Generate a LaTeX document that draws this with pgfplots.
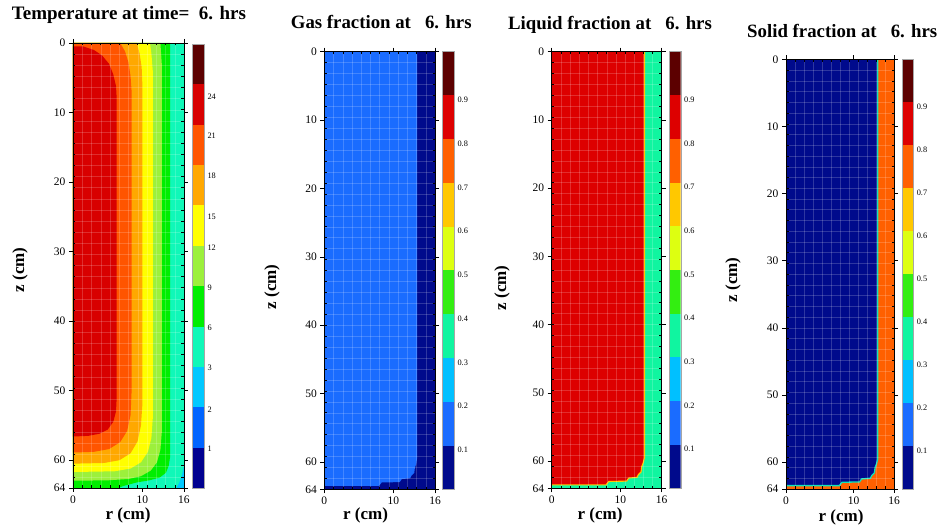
\documentclass[border=0pt]{standalone}
\usepackage{pgfplots}
\pgfplotsset{compat=1.18}
\usepackage{fontspec}
\setmainfont{Liberation Serif}
% temperature colormap
\definecolor{tA}{HTML}{000090}
\definecolor{tB}{HTML}{0064FF}
\definecolor{tC}{HTML}{00C8FF}
\definecolor{tD}{HTML}{10F8B8}
\definecolor{tE}{HTML}{00EE00}
\definecolor{tF}{HTML}{9CF03C}
\definecolor{tG}{HTML}{FFFF00}
\definecolor{tH}{HTML}{FFA800}
\definecolor{tI}{HTML}{FF5500}
\definecolor{tJ}{HTML}{D80000}
\definecolor{tK}{HTML}{5C0000}
% fraction colormap
\definecolor{fA}{HTML}{000A8C}
\definecolor{fB}{HTML}{1A6CFF}
\definecolor{fC}{HTML}{00C0FF}
\definecolor{fD}{HTML}{10F5A0}
\definecolor{fE}{HTML}{33EE11}
\definecolor{fF}{HTML}{DDFF11}
\definecolor{fG}{HTML}{FFC800}
\definecolor{fH}{HTML}{FF6000}
\definecolor{fI}{HTML}{DD0000}
\definecolor{fJ}{HTML}{5C0000}
\pgfplotsset{
  field/.style={
    scale only axis, anchor=south west,
    xmin=0,xmax=16,ymin=0,ymax=64, y dir=reverse,
    xtick={0,10,16}, ytick={0,10,20,30,40,50,60,64},
    minor xtick={1.333,2.667,4,5.333,6.667,8,9.333,10.667,12,13.333,14.667},
    minor ytick={1.6,3.2,...,62.5},
    tick align=outside, major tick length=4pt, minor tick length=-2.5pt,
    axis on top,
    grid=minor, minor grid style={white,opacity=0.18,line width=0.4pt},
    tick label style={font=\fontsize{11.5}{11.5}\selectfont},
    /pgf/number format/assume math mode=true,
    axis line style={line width=0.9pt},
    every tick/.style={black,line width=0.5pt},
  },
  cbar/.style={
    scale only axis, anchor=south west, xmin=0,xmax=1, xtick=\empty,
    yticklabel pos=right, major tick length=0pt, axis line style={gray!70},
    tick label style={font=\fontsize{8.3}{8.3}\selectfont},
    /pgf/number format/assume math mode=true,
    enlargelimits=false, axis on top,
  },
}
\begin{document}
\begin{tikzpicture}
\useasboundingbox (0,0) rectangle (938pt,529pt);
% ---------------- Panel 1: temperature
\begin{axis}[field, at={(73pt,41pt)}, width=111pt, height=445pt]
\addplot[fill=tD,draw=none] coordinates {(0,0) (16,0) (16,64) (0,64)} --cycle;
\addplot[fill=tC,draw=none] coordinates {(16,60.8) (15.7,62.2) (15.3,63.3) (14.9,64) (16,64)} --cycle;
\addplot[fill=tE,draw=none] coordinates {(0,0) (14,0) (14,59.5) (13.8,60.8) (13.4,61.8) (12.5,62.5) (11,62.9) (9.2,63.2) (7.3,63.7) (6.5,64) (0,64)} --cycle;
\addplot[fill=tF,draw=none] coordinates {(0,0) (12.6,0) (12.8,3) (12.8,56) (12.6,58.5) (12.1,60.3) (11.2,61.5) (9.8,62.3) (8,62.7) (5,62.9) (0,62.95)} --cycle;
\addplot[fill=tG,draw=none] coordinates {(0,0) (11.1,0) (11.3,1.5) (11.5,4) (11.5,54) (11.3,56.8) (10.8,58.8) (9.8,60.3) (8.3,61.2) (6,61.6) (0,61.7)} --cycle;
\addplot[fill=tH,draw=none] coordinates {(0,0) (9.2,0) (9.6,1.5) (9.9,3.5) (10,6) (10,52) (9.8,55) (9.3,57.3) (8.3,59) (6.7,60) (4.5,60.4) (0,60.5)} --cycle;
\addplot[fill=tI,draw=none] coordinates {(0,0) (6.8,0) (7.5,1.2) (8,2.8) (8.3,4.8) (8.45,7) (8.45,50) (8.3,53.5) (7.8,55.8) (6.8,57.4) (5.2,58.4) (3,58.8) (0,58.9)} --cycle;
\addplot[fill=tJ,draw=none] coordinates {(0,0.5) (1.5,0.5) (3,1) (4.2,1.8) (5.2,3) (5.8,4.5) (6.2,6.2) (6.3,8) (6.3,51) (6.2,53) (5.8,54.5) (5,55.6) (3.8,56.2) (2.2,56.5) (0,56.6)} --cycle;
\end{axis}
\begin{axis}[cbar, at={(192pt,41pt)}, width=12pt, height=444pt, ymin=0, ymax=11,
  ytick={0.98,1.93,2.97,3.96,4.95,5.94,6.72,7.73,8.72,9.70},
  yticklabels={1,2,3,6,9,12,15,18,21,24}]
\addplot[fill=tA,draw=none] coordinates {(0,0) (1,0) (1,1) (0,1)} --cycle;
\addplot[fill=tB,draw=none] coordinates {(0,1) (1,1) (1,2) (0,2)} --cycle;
\addplot[fill=tC,draw=none] coordinates {(0,2) (1,2) (1,3) (0,3)} --cycle;
\addplot[fill=tD,draw=none] coordinates {(0,3) (1,3) (1,4) (0,4)} --cycle;
\addplot[fill=tE,draw=none] coordinates {(0,4) (1,4) (1,5) (0,5)} --cycle;
\addplot[fill=tF,draw=none] coordinates {(0,5) (1,5) (1,6) (0,6)} --cycle;
\addplot[fill=tG,draw=none] coordinates {(0,6) (1,6) (1,7) (0,7)} --cycle;
\addplot[fill=tH,draw=none] coordinates {(0,7) (1,7) (1,8) (0,8)} --cycle;
\addplot[fill=tI,draw=none] coordinates {(0,8) (1,8) (1,9) (0,9)} --cycle;
\addplot[fill=tJ,draw=none] coordinates {(0,9) (1,9) (1,10) (0,10)} --cycle;
\addplot[fill=tK,draw=none] coordinates {(0,10) (1,10) (1,11) (0,11)} --cycle;
\end{axis}
% ---------------- Panel 2: gas
\begin{axis}[field, at={(324.3pt,39.7pt)}, width=110.7pt, height=437.6pt]
\addplot[fill=fA,draw=none] coordinates {(0,0) (16,0) (16,64) (0,64)} --cycle;
\addplot[fill=fB,draw=none] coordinates {(0,0) (13.4,0) (13.4,59.5) (13.3,60.3) (13.1,60.8) (13.0,61.6) (12.6,62.0) (12.4,62.4) (11.2,62.5) (10.9,62.95) (8.3,63.0) (7.9,63.5) (0,63.5)} --cycle;
\end{axis}
\begin{axis}[cbar, at={(441.7pt,39.7pt)}, width=12.3pt, height=437.6pt, ymin=0, ymax=10,
  ytick={0.9,1.9,...,8.95}, yticklabels={0.1,0.2,0.3,0.4,0.5,0.6,0.7,0.8,0.9}]
\addplot[fill=fA,draw=none] coordinates {(0,0) (1,0) (1,1) (0,1)} --cycle;
\addplot[fill=fB,draw=none] coordinates {(0,1) (1,1) (1,2) (0,2)} --cycle;
\addplot[fill=fC,draw=none] coordinates {(0,2) (1,2) (1,3) (0,3)} --cycle;
\addplot[fill=fD,draw=none] coordinates {(0,3) (1,3) (1,4) (0,4)} --cycle;
\addplot[fill=fE,draw=none] coordinates {(0,4) (1,4) (1,5) (0,5)} --cycle;
\addplot[fill=fF,draw=none] coordinates {(0,5) (1,5) (1,6) (0,6)} --cycle;
\addplot[fill=fG,draw=none] coordinates {(0,6) (1,6) (1,7) (0,7)} --cycle;
\addplot[fill=fH,draw=none] coordinates {(0,7) (1,7) (1,8) (0,8)} --cycle;
\addplot[fill=fI,draw=none] coordinates {(0,8) (1,8) (1,9) (0,9)} --cycle;
\addplot[fill=fJ,draw=none] coordinates {(0,9) (1,9) (1,10) (0,10)} --cycle;
\end{axis}
% ---------------- Panel 3: liquid
\begin{axis}[field, at={(551.7pt,40.7pt)}, width=110pt, height=436.6pt]
\addplot[fill=fD,draw=none] coordinates {(0,0) (16,0) (16,64) (0,64)} --cycle;
\addplot[fill=fI,draw=none] coordinates {(0,0) (13.5,0) (13.5,59.5) (13.3,60.3) (13.1,60.8) (13.0,61.6) (12.6,62.0) (12.4,62.4) (11.2,62.5) (10.9,62.95) (8.3,63.0) (7.9,63.5) (0,63.5)} --cycle;
\addplot[draw=fG,line width=1.1pt] coordinates {(13.5,0) (13.5,59.5) (13.3,60.3) (13.1,60.8) (13.0,61.6) (12.6,62.0) (12.4,62.4) (11.2,62.5) (10.9,62.95) (8.3,63.0) (7.9,63.5) (0,63.5)};
\end{axis}
\begin{axis}[cbar, at={(669.3pt,40.7pt)}, width=11.4pt, height=436.6pt, ymin=0, ymax=10,
  ytick={0.9,1.9,...,8.95}, yticklabels={0.1,0.2,0.3,0.4,0.5,0.6,0.7,0.8,0.9}]
\addplot[fill=fA,draw=none] coordinates {(0,0) (1,0) (1,1) (0,1)} --cycle;
\addplot[fill=fB,draw=none] coordinates {(0,1) (1,1) (1,2) (0,2)} --cycle;
\addplot[fill=fC,draw=none] coordinates {(0,2) (1,2) (1,3) (0,3)} --cycle;
\addplot[fill=fD,draw=none] coordinates {(0,3) (1,3) (1,4) (0,4)} --cycle;
\addplot[fill=fE,draw=none] coordinates {(0,4) (1,4) (1,5) (0,5)} --cycle;
\addplot[fill=fF,draw=none] coordinates {(0,5) (1,5) (1,6) (0,6)} --cycle;
\addplot[fill=fG,draw=none] coordinates {(0,6) (1,6) (1,7) (0,7)} --cycle;
\addplot[fill=fH,draw=none] coordinates {(0,7) (1,7) (1,8) (0,8)} --cycle;
\addplot[fill=fI,draw=none] coordinates {(0,8) (1,8) (1,9) (0,9)} --cycle;
\addplot[fill=fJ,draw=none] coordinates {(0,9) (1,9) (1,10) (0,10)} --cycle;
\end{axis}
% ---------------- Panel 4: solid
\begin{axis}[field, at={(786pt,40pt)}, width=108pt, height=429.7pt]
\addplot[fill=fH,draw=none] coordinates {(0,0) (16,0) (16,64) (0,64)} --cycle;
\addplot[fill=fA,draw=none] coordinates {(0,0) (13.6,0) (13.6,59.5) (13.4,60.3) (13.2,60.8) (13.1,61.6) (12.7,62.0) (12.5,62.4) (11.2,62.5) (10.9,62.95) (8.3,63.0) (7.9,63.5) (0,63.5)} --cycle;
\addplot[draw=fD!70!fC,line width=1.3pt] coordinates {(13.6,0) (13.6,59.5) (13.4,60.3) (13.2,60.8) (13.1,61.6) (12.7,62.0) (12.5,62.4) (11.2,62.5) (10.9,62.95) (8.3,63.0) (7.9,63.5) (0,63.5)};
\end{axis}
\begin{axis}[cbar, at={(901.7pt,40pt)}, width=11.6pt, height=429.7pt, ymin=0, ymax=10,
  ytick={0.9,1.9,...,8.95}, yticklabels={0.1,0.2,0.3,0.4,0.5,0.6,0.7,0.8,0.9}]
\addplot[fill=fA,draw=none] coordinates {(0,0) (1,0) (1,1) (0,1)} --cycle;
\addplot[fill=fB,draw=none] coordinates {(0,1) (1,1) (1,2) (0,2)} --cycle;
\addplot[fill=fC,draw=none] coordinates {(0,2) (1,2) (1,3) (0,3)} --cycle;
\addplot[fill=fD,draw=none] coordinates {(0,3) (1,3) (1,4) (0,4)} --cycle;
\addplot[fill=fE,draw=none] coordinates {(0,4) (1,4) (1,5) (0,5)} --cycle;
\addplot[fill=fF,draw=none] coordinates {(0,5) (1,5) (1,6) (0,6)} --cycle;
\addplot[fill=fG,draw=none] coordinates {(0,6) (1,6) (1,7) (0,7)} --cycle;
\addplot[fill=fH,draw=none] coordinates {(0,7) (1,7) (1,8) (0,8)} --cycle;
\addplot[fill=fI,draw=none] coordinates {(0,8) (1,8) (1,9) (0,9)} --cycle;
\addplot[fill=fJ,draw=none] coordinates {(0,9) (1,9) (1,10) (0,10)} --cycle;
\end{axis}
% ---------------- Titles and labels
\begin{scope}[every node/.style={inner sep=0pt, font=\fontsize{18.8}{20}\selectfont\bfseries}]
\node[anchor=base west, font=\fontsize{19}{20}\selectfont\bfseries] at (11.7pt,509.7pt) {Temperature at time=\ \ 6. hrs};
\node[anchor=base west] at (290.7pt,500.7pt) {Gas fraction at\ \ \ 6. hrs};
\node[anchor=base west] at (508pt,499.5pt) {Liquid fraction at\ \ \ 6. hrs};
\node[anchor=base west] at (747pt,491pt) {Solid fraction at\ \ \ 6. hrs};
\end{scope}
\begin{scope}[every node/.style={inner sep=0pt, font=\fontsize{17}{18}\selectfont\bfseries}]
\node[rotate=90] at (20pt,259pt) {z (cm)};
\node[rotate=90] at (272pt,242pt) {z (cm)};
\node[rotate=90] at (502pt,241pt) {z (cm)};
\node[rotate=90] at (733pt,249pt) {z (cm)};
\node at (128pt,14pt) {r (cm)};
\node at (365.5pt,14pt) {r (cm)};
\node at (600pt,14pt) {r (cm)};
\node at (841pt,12pt) {r (cm)};
\end{scope}
\end{tikzpicture}
\end{document}
